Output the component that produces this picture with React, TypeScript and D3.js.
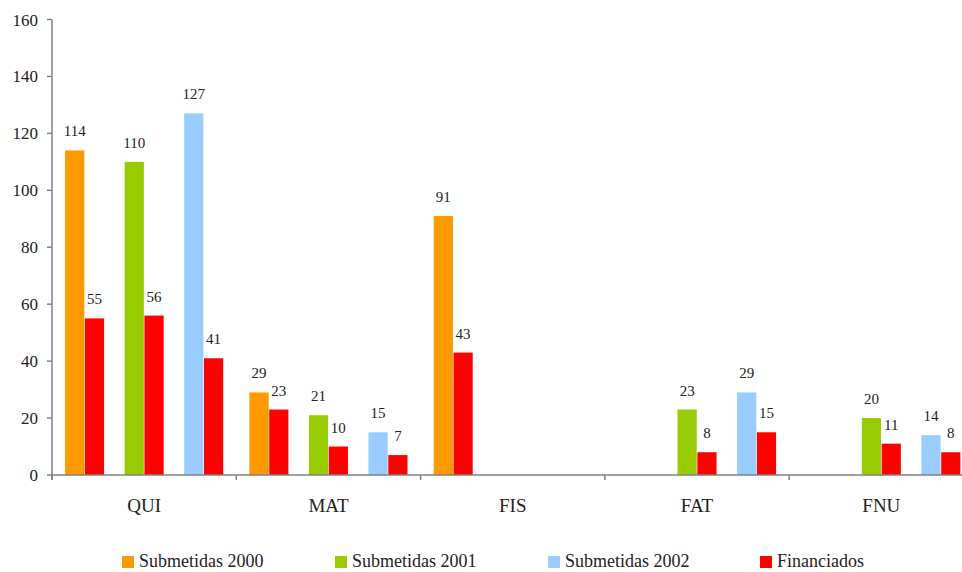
import React from "react";
import * as d3 from "d3";

const categories = ["QUI", "MAT", "FIS", "FAT", "FNU"];
const years = ["2000", "2001", "2002"];
const legendLabels = ["Submetidas 2000", "Submetidas 2001", "Submetidas 2002", "Financiados"];
// submitted per category per year (null = absent)
const submitted: (number | null)[][] = [
  [114, 110, 127],
  [29, 21, 15],
  [91, null, null],
  [null, 23, 29],
  [null, 20, 14],
];
const financed: (number | null)[][] = [
  [55, 56, 41],
  [23, 10, 7],
  [43, null, null],
  [null, 8, 15],
  [null, 11, 8],
];
const yTicks = [0, 20, 40, 60, 80, 100, 120, 140, 160];

const yearColors = ["#FF9900", "#99CC00", "#99CCFF"];
const finColor = "#FF0000";
const font = "Liberation Serif, DejaVu Serif, serif";

export default function App() {
  const W = 962, H = 572;
  const left = 52, zeroY = 475;
  const catW = 184.3;
  const x = d3.scaleBand<string>().domain(categories).range([left, left + catW * categories.length]);
  const y = d3.scaleLinear().domain([0, 160]).range([zeroY, 19.5]);
  const xYear = d3.scaleBand<string>().domain(years).range([0, x.bandwidth()]).paddingInner(0.345).paddingOuter(0.22);
  const xPair = d3.scaleBand<string>().domain(["s", "f"]).range([0, xYear.bandwidth()]).paddingInner(0.03);

  const bars: { x: number; v: number; color: string; key: string }[] = [];
  categories.forEach((c, ci) => {
    years.forEach((yr, yi) => {
      const s = submitted[ci][yi];
      const f = financed[ci][yi];
      const gx = (x(c) as number) + (xYear(yr) as number);
      if (s != null) bars.push({ x: gx + (xPair("s") as number), v: s, color: yearColors[yi], key: `${c}-${yr}-s` });
      if (f != null) bars.push({ x: gx + (xPair("f") as number), v: f, color: finColor, key: `${c}-${yr}-f` });
    });
  });
  const bw = xPair.bandwidth();
  const axisColor = "#808080";
  const catEdges = categories.map((c) => x(c) as number).concat([left + catW * categories.length]);
  const legendX = [122, 335, 548, 760];
  const ts = { fontFamily: font, fill: "#222" } as React.CSSProperties;

  return (
    <svg width={W} height={H} style={{ position: "absolute", left: 0, top: 0, background: "#fff" }}>
      {bars.map((b) => (
        <g key={b.key}>
          <rect x={b.x} y={y(b.v)} width={bw} height={zeroY - y(b.v)} fill={b.color} />
          <text x={b.x + bw / 2} y={y(b.v) - 14} textAnchor="middle" fontSize={15} style={ts}>
            {b.v}
          </text>
        </g>
      ))}
      {/* y axis */}
      <line x1={left} x2={left} y1={y(160)} y2={zeroY + 5} stroke={axisColor} strokeWidth={1.5} />
      {yTicks.map((t) => (
        <g key={t}>
          <line x1={left - 5} x2={left} y1={y(t)} y2={y(t)} stroke={axisColor} strokeWidth={1.5} />
          <text x={38} y={y(t) + 6} textAnchor="end" fontSize={17} style={ts}>
            {t}
          </text>
        </g>
      ))}
      {/* x axis */}
      <line x1={left} x2={left + catW * categories.length} y1={zeroY} y2={zeroY} stroke={axisColor} strokeWidth={1.5} />
      {catEdges.map((e, i) => (
        <line key={i} x1={e} x2={e} y1={zeroY} y2={zeroY + 5} stroke={axisColor} strokeWidth={1.5} />
      ))}
      {categories.map((c) => (
        <text key={c} x={(x(c) as number) + x.bandwidth() / 2} y={512} textAnchor="middle" fontSize={19} style={ts}>
          {c}
        </text>
      ))}
      {/* legend */}
      {legendLabels.map((l, i) => (
        <g key={l}>
          <rect x={legendX[i]} y={556} width={12} height={12} fill={i < 3 ? yearColors[i] : finColor} />
          <text x={legendX[i] + 17} y={567} fontSize={18} style={ts}>
            {l}
          </text>
        </g>
      ))}
    </svg>
  );
}
